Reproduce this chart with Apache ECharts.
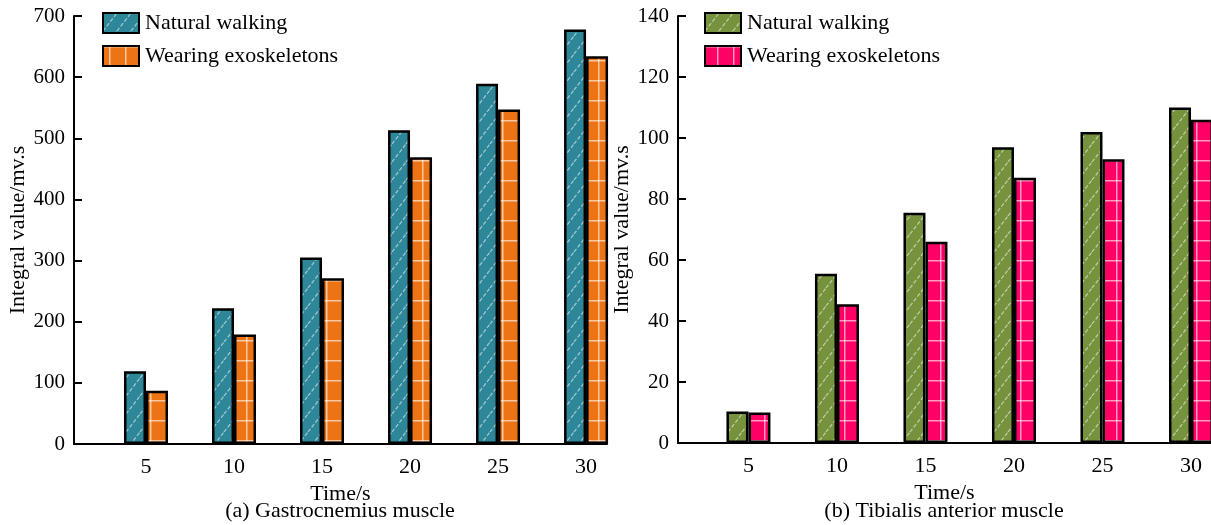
<!DOCTYPE html>
<html>
<head>
<meta charset="utf-8">
<script src="https://cdn.jsdelivr.net/npm/echarts@6/dist/echarts.min.js"></script>
<style>html,body{margin:0;padding:0;background:#fff;}#c{width:1211px;height:525px;}</style>
</head>
<body>
<div id="c"></div>
<script>
const categories = [5, 10, 15, 20, 25, 30];
const gastroNatural = [119, 222, 305, 513, 589, 678];
const gastroExo = [87, 179, 271, 469, 547, 634];
const tibNatural = [10.3, 55.5, 75.5, 97, 102, 110];
const tibExo = [10, 45.5, 66, 87, 93, 106];
const seriesNames = ['Natural walking', 'Wearing exoskeletons'];
const captions = ['(a) Gastrocnemius muscle', '(b) Tibialis anterior muscle'];
const xName = 'Time/s';
const yName = 'Integral value/mv.s';

const FONT = '"Liberation Serif", "Times New Roman", serif';

function diagPattern(bg) {
  const w = 14, h = 18;
  const c = document.createElement('canvas');
  c.width = w; c.height = h;
  const g = c.getContext('2d');
  g.fillStyle = bg; g.fillRect(0, 0, w, h);
  g.strokeStyle = 'rgba(255,255,255,0.55)';
  g.lineWidth = 1.2;
  g.setLineDash([4, 2]);
  for (const off of [-w, 0, w]) {
    g.beginPath();
    g.moveTo(off, h);
    g.lineTo(off + w, 0);
    g.stroke();
  }
  return c;
}
function gridPattern(bg, vx) {
  const w = 16, h = 20;
  const c = document.createElement('canvas');
  c.width = w; c.height = h;
  const g = c.getContext('2d');
  g.fillStyle = bg; g.fillRect(0, 0, w, h);
  g.fillStyle = 'rgba(255,255,255,0.6)';
  g.fillRect(0, 0, w, 1.5);
  g.fillRect(vx, 0, 1.5, h);
  return c;
}

const teal = { image: diagPattern('#2E8799'), repeat: 'repeat' };
const orange = { image: gridPattern('#EC7414', 6), repeat: 'repeat' };
const olive = { image: diagPattern('#76923C'), repeat: 'repeat' };
const pink = { image: gridPattern('#FF0066', 12), repeat: 'repeat' };

const chart = echarts.init(document.getElementById('c'), null, { renderer: 'canvas' });

const axisLineStyle = { color: '#000', width: 2 };
function xAxis(gi, min, max) {
  return {
    type: 'value', gridIndex: gi, min: min, max: max,
    splitLine: { show: false },
    axisLine: { show: true, lineStyle: axisLineStyle },
    axisTick: { show: false },
    axisLabel: { customValues: categories, color: '#000', fontSize: 22, fontFamily: FONT, margin: 12 },
    name: xName, nameLocation: 'middle', nameGap: 32,
    nameTextStyle: { color: '#000', fontSize: 22, fontFamily: FONT }
  };
}
function yAxis(gi, max, interval, gap) {
  return {
    type: 'value', gridIndex: gi, min: 0, max: max, interval: interval,
    splitLine: { show: false },
    axisLine: { show: true, lineStyle: axisLineStyle },
    axisTick: { show: true, inside: true, length: 8, lineStyle: axisLineStyle },
    axisLabel: { color: '#000', fontSize: 21, fontFamily: FONT, margin: 9 },
    name: yName, nameLocation: 'middle', nameGap: gap,
    nameTextStyle: { color: '#000', fontSize: 22, fontFamily: FONT }
  };
}
function bar(name, gi, vals, color) {
  return {
    type: 'bar', name: name, xAxisIndex: gi, yAxisIndex: gi,
    data: categories.map((c, i) => [c, vals[i]]),
    barWidth: 22, barGap: '0%',
    itemStyle: { color: color, borderColor: '#000', borderWidth: 2.5 }
  };
}
function legend(left, names) {
  return {
    orient: 'vertical', left: left, top: 12, padding: 0,
    itemWidth: 36, itemHeight: 20, itemGap: 11,
    icon: 'rect', data: names,
    formatter: n => n.slice(2),
    textStyle: { color: '#000', fontSize: 22, fontFamily: FONT, padding: [0, 0, 0, 1] }
  };
}

chart.setOption({
  animation: false,
  backgroundColor: '#fff',
  grid: [
    { left: 74, top: 16, width: 533, height: 428 },
    { left: 678, top: 16, width: 533, height: 427 }
  ],
  xAxis: [xAxis(0, 0.91, 31.19), xAxis(1, 1.02, 31.13)],
  yAxis: [yAxis(0, 700, 100, 42), yAxis(1, 140, 20, 44)],
  legend: [
    legend(102, ['a:' + seriesNames[0], 'a:' + seriesNames[1]]),
    legend(704, ['b:' + seriesNames[0], 'b:' + seriesNames[1]])
  ],
  series: [
    bar('a:' + seriesNames[0], 0, gastroNatural, teal),
    bar('a:' + seriesNames[1], 0, gastroExo, orange),
    bar('b:' + seriesNames[0], 1, tibNatural, olive),
    bar('b:' + seriesNames[1], 1, tibExo, pink)
  ],
  graphic: [
    { type: 'text', x: 340, y: 500, style: { text: captions[0], textAlign: 'center', fill: '#000', fontSize: 22, fontFamily: FONT } },
    { type: 'text', x: 944, y: 500, style: { text: captions[1], textAlign: 'center', fill: '#000', fontSize: 22, fontFamily: FONT } }
  ]
});
</script>
</body>
</html>
